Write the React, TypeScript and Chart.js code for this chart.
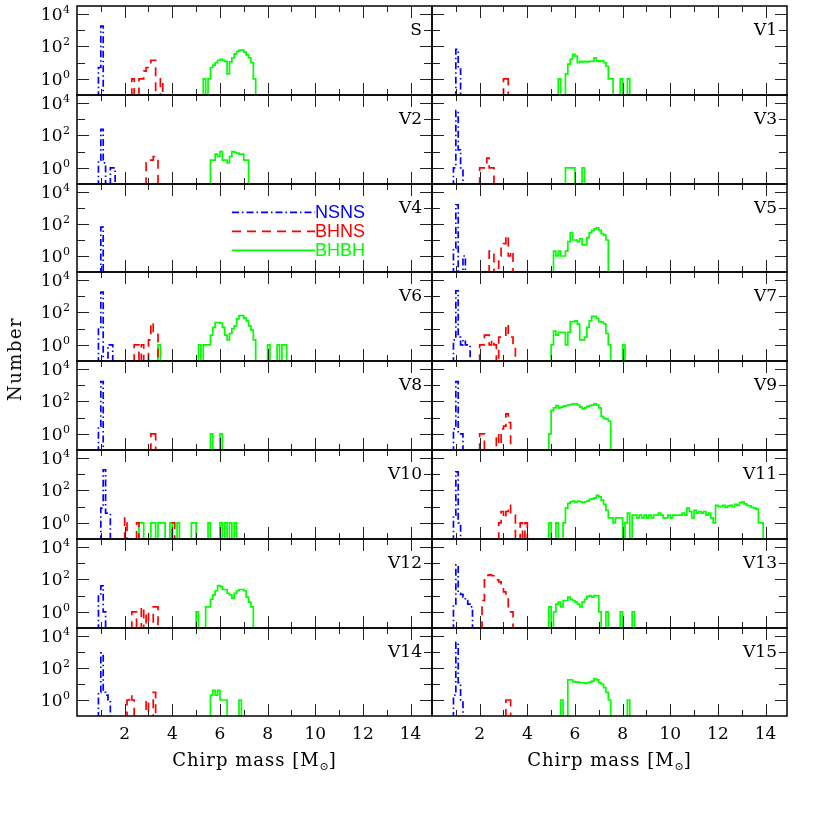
import React, { useEffect, useRef } from "react";
import { Chart, registerables } from "chart.js";

Chart.register(...registerables);

// ---------- data: histogram counts per 0.1 bin, starting at *_FROM ----------
const BIN = 0.1;
const PANEL_NAMES = ["S", "V1", "V2", "V3", "V4", "V5", "V6", "V7", "V8", "V9", "V10", "V11", "V12", "V13", "V14", "V15"];
const SERIES_LABELS = ["NSNS", "BHNS", "BHBH"];
const X_TICKS = [1, 2, 3, 4, 5, 6, 7, 8, 9, 10, 11, 12, 13, 14];
const X_TICK_LABELS = [2, 4, 6, 8, 10, 12, 14];
const Y_DECADES = [0, 1, 2, 3, 4];
const Y_TICK_LABELS = [0, 2, 4];

const S_NSNS_FROM = 0.9; const S_NSNS = [5, 1800];
const S_BHNS_FROM = 2.3; const S_BHNS = [1, 0, 0, 1, 1, 3, 5, 5, 14, 14, 0, 0, 1];
const S_BHBH_FROM = 5.3; const S_BHBH = [1, 0, 1, 5, 7, 10, 14, 16, 14, 12, 2, 11, 20, 35, 50, 60, 60, 45, 30, 20, 10, 1];

const V1_NSNS_FROM = 1.0; const V1_NSNS = [66, 4];
const V1_BHNS_FROM = 3.0; const V1_BHNS = [1, 1];
const V1_BHBH_FROM = 5.3; const V1_BHBH = [1, 0, 0, 2, 8, 16, 32, 25, 10, 12, 11, 12, 11, 12, 12, 20, 13, 12, 13, 10, 6, 1, 1, 0, 0, 0, 1, 0, 0, 1];

const V2_NSNS_FROM = 0.9; const V2_NSNS = [3, 240, 2, 0, 0, 1, 1];
const V2_BHNS_FROM = 2.9; const V2_BHNS = [2, 3, 3, 5, 5];
const V2_BHBH_FROM = 5.6; const V2_BHBH = [3, 3, 7, 5, 10, 3, 3, 2, 5, 10, 9, 8, 7, 7, 3, 3];

const V3_NSNS_FROM = 0.9; const V3_NSNS = [1, 3400, 13, 1];
const V3_BHNS_FROM = 2.0; const V3_BHNS = [1, 1, 1, 4, 1, 1];
const V3_BHBH_FROM = 5.6; const V3_BHBH = [1, 1, 1, 1, 0, 0, 0, 1];

const V4_NSNS_FROM = 1.0; const V4_NSNS = [63];
const V4_BHNS_FROM = 3.0; const V4_BHNS: number[] = [];
const V4_BHBH_FROM = 6.0; const V4_BHBH: number[] = [];

const V5_NSNS_FROM = 0.9; const V5_NSNS = [3, 1600, 0, 0, 1];
const V5_BHNS_FROM = 2.4; const V5_BHNS = [2, 2, 0, 0, 1, 4, 6, 19, 1, 2];
const V5_BHBH_FROM = 5.1; const V5_BHBH = [2, 1, 2, 1, 1, 2, 8, 28, 10, 10, 8, 12, 5, 5, 14, 28, 40, 50, 57, 40, 25, 20, 10];

const V6_NSNS_FROM = 0.9; const V6_NSNS = [12, 1800, 0, 0, 1, 1];
const V6_BHNS_FROM = 2.4; const V6_BHNS = [1, 1, 0, 1, 0, 0, 2, 24, 5, 5];
const V6_BHBH_FROM = 3.4; const V6_BHBH = [1, 0, 0, 0, 0, 0, 0, 0, 0, 0, 0, 0, 0, 0, 0, 0, 0, 1, 0, 1, 1, 1, 4, 12, 24, 24, 22, 12, 4, 2, 5, 10, 15, 40, 63, 63, 45, 30, 15, 8, 2, 0, 0, 0, 0, 0, 1, 0, 0, 0, 1, 0, 1, 1];

const V7_NSNS_FROM = 0.9; const V7_NSNS = [2, 2200, 3, 1, 2, 1, 1];
const V7_BHNS_FROM = 2.0; const V7_BHNS = [1, 1, 4, 4, 1, 2, 1, 0, 3, 4, 4, 19, 3, 3, 1];
const V7_BHBH_FROM = 5.0; const V7_BHBH = [1, 7, 4, 6, 6, 6, 1, 6, 27, 27, 30, 19, 2, 2, 3, 12, 30, 58, 58, 43, 27, 25, 20, 5, 1, 0, 0, 0, 0, 0, 1];

const V8_NSNS_FROM = 0.9; const V8_NSNS = [3, 1700];
const V8_BHNS_FROM = 3.1; const V8_BHNS = [1, 1];
const V8_BHBH_FROM = 5.6; const V8_BHBH = [1, 0, 0, 0, 1];

const V9_NSNS_FROM = 0.9; const V9_NSNS = [2, 1700, 1, 1];
const V9_BHNS_FROM = 2.0; const V9_BHNS = [1, 1, 0, 0, 0, 0, 0, 1, 0, 2, 3, 17, 5];
const V9_BHBH_FROM = 4.9; const V9_BHBH = [1, 28, 40, 55, 40, 45, 52, 55, 60, 65, 70, 72, 60, 45, 35, 40, 50, 55, 60, 70, 60, 40, 12, 9, 8, 6];

const V10_NSNS_FROM = 1.0; const V10_NSNS = [8, 1900, 4, 4];
const V10_BHNS_FROM = 2.0; const V10_BHNS = [2, 0, 0, 0, 0, 1, 0, 0, 0, 0, 0, 0, 0, 0, 0, 0, 0, 0, 0, 0, 1];
const V10_BHBH_FROM = 2.6; const V10_BHBH = [1, 1, 0, 0, 0, 1, 1, 0, 1, 1, 1, 0, 0, 1, 0, 0, 1, 0, 0, 0, 0, 0, 1, 1, 0, 0, 0, 0, 0, 1, 0, 0, 0, 0, 1, 0, 1, 0, 1, 0, 1];

const V11_NSNS_FROM = 0.9; const V11_NSNS = [3, 1400, 1];
const V11_BHNS_FROM = 2.8; const V11_BHNS = [1, 5, 2, 5, 12, 3, 3, 0, 0, 1, 0, 1];
const V11_BHBH_FROM = 4.9; const V11_BHBH = [
  1, 0, 0, 1, 0, 0, 1, 8, 16, 20,
  22, 18, 22, 20, 18, 20, 22, 28, 30, 35,
  50, 40, 25, 14, 6, 2, 2, 1, 2, 2,
  2, 0, 1, 4, 0, 3, 3, 2, 3, 2,
  3, 2, 3, 2, 3, 3, 4, 3, 2, 2,
  3, 2, 3, 3, 3, 3, 4, 3, 8, 5,
  2, 6, 4, 5, 4, 5, 3, 4, 2, 1,
  12, 10, 10, 12, 9, 11, 12, 10, 14, 12,
  18, 20, 15, 12, 11, 9, 8, 7, 1, 1,
];

const V12_NSNS_FROM = 0.9; const V12_NSNS = [11, 40, 1];
const V12_BHNS_FROM = 2.3; const V12_BHNS = [1, 1, 0, 0, 2, 0, 1, 0, 0, 2, 2];
const V12_BHBH_FROM = 5.0; const V12_BHBH = [1, 0, 0, 0, 2, 2, 6, 11, 20, 42, 36, 24, 24, 14, 11, 7, 14, 20, 24, 24, 20, 8, 4, 2];

const V13_NSNS_FROM = 0.9; const V13_NSNS = [3, 800, 14, 12, 8, 5, 3, 2];
const V13_BHNS_FROM = 2.1; const V13_BHNS = [5, 95, 180, 190, 170, 120, 95, 70, 35, 17, 9, 2, 1];
const V13_BHBH_FROM = 4.9; const V13_BHBH = [2, 0, 1, 3, 4, 2, 5, 5, 8, 6, 5, 4, 3, 2, 4, 6, 9, 10, 8, 10, 10, 1, 0, 0, 1, 0, 0, 0, 0, 0, 1, 0, 0, 0, 0, 1];

const V14_NSNS_FROM = 0.9; const V14_NSNS = [3, 870, 3, 2, 1];
const V14_BHNS_FROM = 2.0; const V14_BHNS = [0, 1, 2, 1, 0, 0, 0, 0, 0, 1, 0, 0, 3];
const V14_BHBH_FROM = 5.6; const V14_BHBH = [2, 4, 2, 4, 1, 1, 1, 0, 0, 0, 0, 0, 1];

const V15_NSNS_FROM = 0.9; const V15_NSNS = [2, 4000, 12, 1];
const V15_BHNS_FROM = 3.1; const V15_BHNS = [1, 1];
const V15_BHBH_FROM = 5.4; const V15_BHBH = [1, 0, 0, 18, 18, 14, 13, 13, 12, 12, 11, 12, 13, 15, 22, 18, 12, 10, 6, 3, 1, 0, 0, 0, 0, 0, 0, 0, 1];

type Series = [number, number[]];
const PANEL_SERIES: Series[][] = [
  [[S_NSNS_FROM, S_NSNS], [S_BHNS_FROM, S_BHNS], [S_BHBH_FROM, S_BHBH]],
  [[V1_NSNS_FROM, V1_NSNS], [V1_BHNS_FROM, V1_BHNS], [V1_BHBH_FROM, V1_BHBH]],
  [[V2_NSNS_FROM, V2_NSNS], [V2_BHNS_FROM, V2_BHNS], [V2_BHBH_FROM, V2_BHBH]],
  [[V3_NSNS_FROM, V3_NSNS], [V3_BHNS_FROM, V3_BHNS], [V3_BHBH_FROM, V3_BHBH]],
  [[V4_NSNS_FROM, V4_NSNS], [V4_BHNS_FROM, V4_BHNS], [V4_BHBH_FROM, V4_BHBH]],
  [[V5_NSNS_FROM, V5_NSNS], [V5_BHNS_FROM, V5_BHNS], [V5_BHBH_FROM, V5_BHBH]],
  [[V6_NSNS_FROM, V6_NSNS], [V6_BHNS_FROM, V6_BHNS], [V6_BHBH_FROM, V6_BHBH]],
  [[V7_NSNS_FROM, V7_NSNS], [V7_BHNS_FROM, V7_BHNS], [V7_BHBH_FROM, V7_BHBH]],
  [[V8_NSNS_FROM, V8_NSNS], [V8_BHNS_FROM, V8_BHNS], [V8_BHBH_FROM, V8_BHBH]],
  [[V9_NSNS_FROM, V9_NSNS], [V9_BHNS_FROM, V9_BHNS], [V9_BHBH_FROM, V9_BHBH]],
  [[V10_NSNS_FROM, V10_NSNS], [V10_BHNS_FROM, V10_BHNS], [V10_BHBH_FROM, V10_BHBH]],
  [[V11_NSNS_FROM, V11_NSNS], [V11_BHNS_FROM, V11_BHNS], [V11_BHBH_FROM, V11_BHBH]],
  [[V12_NSNS_FROM, V12_NSNS], [V12_BHNS_FROM, V12_BHNS], [V12_BHBH_FROM, V12_BHBH]],
  [[V13_NSNS_FROM, V13_NSNS], [V13_BHNS_FROM, V13_BHNS], [V13_BHBH_FROM, V13_BHBH]],
  [[V14_NSNS_FROM, V14_NSNS], [V14_BHNS_FROM, V14_BHNS], [V14_BHBH_FROM, V14_BHBH]],
  [[V15_NSNS_FROM, V15_NSNS], [V15_BHNS_FROM, V15_BHNS], [V15_BHBH_FROM, V15_BHBH]],
];

// ---------- styling / layout ----------
const COLORS = ["#0000ff", "#ff0000", "#00ff00"];
const DASHES = [[7, 3, 1.5, 3], [9, 6], []];
const SERIF = "'DejaVu Serif', serif";
const SANS = "'Liberation Sans', Arial, sans-serif";
const X_MAX = 14.9;
const Y_MIN = 0.1;
const Y_MAX = Math.pow(10, 4.5);
const FLOOR = 1e-3;
const COL_LEFT = [77, 432];
const PANEL_W = 355;
const TOP0 = 6;
const PANEL_H = 88.8;
const LEGEND_PANEL = 4;

function stepPoints(from: number, counts: number[]) {
  if (!counts.length) return [];
  const pts: { x: number; y: number }[] = [{ x: from, y: FLOOR }];
  counts.forEach((c, i) => pts.push({ x: +(from + i * BIN).toFixed(3), y: c > 0 ? c : FLOOR }));
  pts.push({ x: +(from + counts.length * BIN).toFixed(3), y: FLOOR });
  return pts;
}

function makeFramePlugin(index: number, col: number, row: number) {
  return {
    id: "frame" + index,
    afterDatasetsDraw(chart: any) {
      const ctx: CanvasRenderingContext2D = chart.ctx;
      const a = chart.chartArea;
      const xs = chart.scales.x;
      const ys = chart.scales.y;
      ctx.save();
      // ticks
      ctx.strokeStyle = "#222";
      ctx.lineWidth = 1;
      ctx.beginPath();
      X_TICKS.forEach((v) => {
        const px = Math.round(xs.getPixelForValue(v)) + 0.5;
        const len = v % 2 === 0 ? 12 : 6;
        ctx.moveTo(px, a.bottom);
        ctx.lineTo(px, a.bottom - len);
        ctx.moveTo(px, a.top);
        ctx.lineTo(px, a.top + len);
      });
      Y_DECADES.forEach((e) => {
        const py = Math.round(ys.getPixelForValue(Math.pow(10, e))) + 0.5;
        const len = e % 2 === 0 ? 12 : 8;
        ctx.moveTo(a.left, py);
        ctx.lineTo(a.left + len, py);
        ctx.moveTo(a.right, py);
        ctx.lineTo(a.right - len, py);
      });
      ctx.stroke();
      // frame
      ctx.strokeStyle = "#000";
      ctx.lineWidth = 1.5;
      ctx.strokeRect(a.left, a.top, a.right - a.left, a.bottom - a.top);

      ctx.fillStyle = "#000";
      ctx.textBaseline = "alphabetic";
      // panel name
      ctx.font = `17px ${SERIF}`;
      ctx.textAlign = "right";
      ctx.fillText(PANEL_NAMES[index], a.right - 10, a.top + 29);

      // y tick labels
      if (col === 0) {
        Y_TICK_LABELS.forEach((e) => {
          const py = ys.getPixelForValue(Math.pow(10, e));
          const rightX = a.left - 7;
          ctx.font = `11px ${SERIF}`;
          ctx.textAlign = "right";
          const sw = ctx.measureText(String(e)).width;
          ctx.fillText(String(e), rightX, py - 1);
          ctx.font = `17px ${SERIF}`;
          ctx.fillText("10", rightX - sw - 0.5, py + 6);
        });
      }
      // x tick labels
      if (row === 7) {
        ctx.font = `17px ${SERIF}`;
        ctx.textAlign = "center";
        X_TICK_LABELS.forEach((v) => {
          const px = xs.getPixelForValue(v);
          ctx.fillText(String(v), px, a.bottom + 23);
        });
      }
      // legend
      if (index === LEGEND_PANEL) {
        const x0 = a.left + 155;
        const x1 = a.left + 238;
        [28.4, 47.4, 66.4].forEach((dy, k) => {
          const y = a.top + dy;
          ctx.strokeStyle = COLORS[k];
          ctx.lineWidth = 1.7;
          ctx.setLineDash(DASHES[k]);
          ctx.beginPath();
          ctx.moveTo(x0, y);
          ctx.lineTo(x1, y);
          ctx.stroke();
          ctx.setLineDash([]);
          ctx.fillStyle = COLORS[k];
          ctx.font = `18px ${SANS}`;
          ctx.textAlign = "left";
          ctx.textBaseline = "middle";
          ctx.fillText(SERIES_LABELS[k], x1, y + 0.5);
        });
      }
      ctx.restore();
    },
  };
}

function Panel({ index }: { index: number }) {
  const ref = useRef<HTMLCanvasElement>(null);
  const row = Math.floor(index / 2);
  const col = index % 2;
  const top = Math.round(TOP0 + row * PANEL_H);
  const bottom = Math.round(TOP0 + (row + 1) * PANEL_H);
  const left = COL_LEFT[col];
  const padL = col === 0 ? left : 6;
  const padR = 6;
  const padT = 8;
  const padB = row === 7 ? 40 : 6;
  const W = padL + PANEL_W + padR;
  const H = padT + (bottom - top) + padB;

  useEffect(() => {
    if (!ref.current) return;
    const series = PANEL_SERIES[index];
    const chart = new Chart(ref.current, {
      type: "line",
      data: {
        datasets: series.map(([from, counts], k) => ({
          label: SERIES_LABELS[k],
          data: stepPoints(from, counts),
          borderColor: COLORS[k],
          borderWidth: 1.7,
          borderDash: DASHES[k],
          pointRadius: 0,
          stepped: "before" as const,
          fill: false,
          tension: 0,
          clip: 0,
        })),
      },
      options: {
        animation: false,
        responsive: false,
        maintainAspectRatio: false,
        events: [],
        layout: { padding: { left: padL, right: padR, top: padT, bottom: padB } },
        scales: {
          x: { type: "linear", min: 0, max: X_MAX, display: false },
          y: { type: "logarithmic", min: Y_MIN, max: Y_MAX, display: false },
        },
        plugins: { legend: { display: false }, tooltip: { enabled: false }, title: { display: false } },
      },
      plugins: [makeFramePlugin(index, col, row)],
    } as any);
    return () => chart.destroy();
  }, []);

  return (
    <canvas
      ref={ref}
      width={W}
      height={H}
      style={{ position: "absolute", left: left - padL, top: top - padT, width: W, height: H }}
    />
  );
}

export default function App() {
  const titleStyle: React.CSSProperties = {
    position: "absolute",
    top: 751,
    fontFamily: SERIF,
    fontSize: 18,
    lineHeight: "18px",
    letterSpacing: "1px",
    whiteSpace: "nowrap",
    transform: "translateX(-50%)",
    color: "#000",
  };
  return (
    <div style={{ position: "fixed", left: 0, top: 0, width: 830, height: 830, background: "#fff", overflow: "hidden" }}>
      {PANEL_NAMES.map((_, i) => (
        <Panel key={i} index={i} />
      ))}
      <div style={{ ...titleStyle, left: 254.5 }}>
        Chirp mass [M<sub style={{ fontSize: 11, verticalAlign: "-4px", letterSpacing: 0 }}>⊙</sub>]
      </div>
      <div style={{ ...titleStyle, left: 609.5 }}>
        Chirp mass [M<sub style={{ fontSize: 11, verticalAlign: "-4px", letterSpacing: 0 }}>⊙</sub>]
      </div>
      <div
        style={{
          position: "absolute",
          left: 15,
          top: 359,
          fontFamily: SERIF,
          fontSize: 18,
          lineHeight: "18px",
          letterSpacing: "1.5px",
          whiteSpace: "nowrap",
          transform: "translate(-50%, -50%) rotate(-90deg)",
          color: "#000",
        }}
      >
        Number
      </div>
    </div>
  );
}
